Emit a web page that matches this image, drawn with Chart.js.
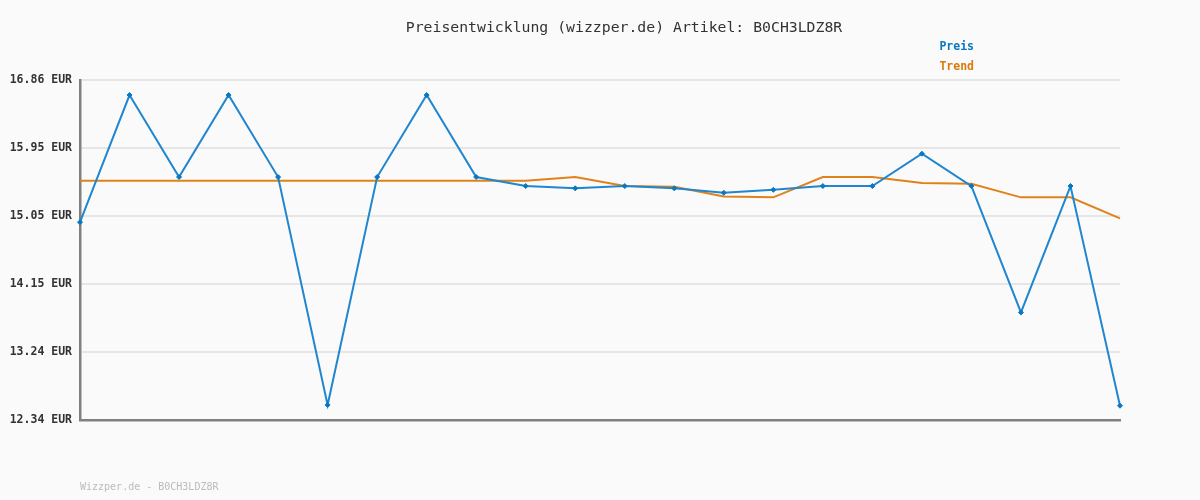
<!DOCTYPE html>
<html>
<head>
<meta charset="utf-8">
<script src="https://cdn.jsdelivr.net/npm/chart.js@4/dist/chart.umd.min.js"></script>
<style>
html,body{margin:0;padding:0;background:#fafafa;}
#wrap{width:1200px;height:500px;position:relative;}
</style>
</head>
<body>
<div id="wrap"><canvas id="c" width="1200" height="500"></canvas></div>
<script>
const categories = ["1","2","3","4","5","6","7","8","9","10","11","12","13","14","15","16","17","18","19","20","21","22"];
const preis = [14.97,16.66,15.57,16.66,15.57,12.54,15.57,16.66,15.57,15.45,15.42,15.45,15.42,15.36,15.40,15.45,15.45,15.88,15.45,13.77,15.45,12.53];
const trend = [15.52,15.52,15.52,15.52,15.52,15.52,15.52,15.52,15.52,15.52,15.57,15.45,15.44,15.31,15.30,15.57,15.57,15.49,15.48,15.30,15.30,15.02];
const tickLabels = ["12.34 EUR","13.24 EUR","14.15 EUR","15.05 EUR","15.95 EUR","16.86 EUR"];
const yMin = 12.34, yMax = 16.86;
const titleText = "Preisentwicklung (wizzper.de) Artikel: B0CH3LDZ8R";
const footerText = "Wizzper.de - B0CH3LDZ8R";
const seriesNames = ["Preis","Trend"];

const BLUE = "#1f86cf", ORANGE = "#e0821a";

const decor = {
  id: 'decor',
  beforeDraw(chart){
    const ctx = chart.ctx;
    ctx.save();
    ctx.fillStyle = '#fafafa';
    ctx.fillRect(0,0,chart.width,chart.height);
    ctx.restore();
  },
  afterDraw(chart){
    const ctx = chart.ctx;
    ctx.save();
    ctx.textBaseline = 'middle';
    ctx.fillStyle = '#333';
    ctx.font = '14.8px "DejaVu Sans Mono", monospace';
    ctx.textAlign = 'center';
    ctx.fillText(titleText, 624, 28);
    ctx.textAlign = 'right';
    ctx.font = 'bold 11.5px "DejaVu Sans Mono", monospace';
    ctx.fillStyle = '#0a78c0';
    ctx.fillText(seriesNames[0], 974, 47);
    ctx.fillStyle = '#d97a0a';
    ctx.fillText(seriesNames[1], 974, 67);
    ctx.textAlign = 'left';
    ctx.font = '10px "DejaVu Sans Mono", monospace';
    ctx.fillStyle = '#bbbbbb';
    ctx.fillText(footerText, 80, 487);
    ctx.restore();
  }
};

new Chart(document.getElementById('c'), {
  type: 'line',
  data: {
    labels: categories,
    datasets: [
      {label: seriesNames[0], data: preis, borderColor: BLUE, backgroundColor: BLUE, borderWidth: 2,
       pointStyle: 'rectRot', pointRadius: 2.5, pointBorderWidth: 1, pointBackgroundColor: '#0a78c0', pointBorderColor: '#0a78c0', tension: 0, clip: false},
      {label: seriesNames[1], data: trend, borderColor: ORANGE, backgroundColor: ORANGE, borderWidth: 2,
       pointRadius: 0, tension: 0, clip: false}
    ]
  },
  options: {
    responsive: false,
    animation: false,
    devicePixelRatio: 1,
    layout: {padding: {left: 0, right: 80, top: 80, bottom: 80}},
    plugins: {legend: {display: false}, title: {display: false}, tooltip: {enabled: false}},
    scales: {
      x: {
        offset: false,
        grid: {display: false, drawTicks: false},
        border: {display: true, color: '#808080', width: 2.5},
        ticks: {display: false},
        afterFit(s){ s.height = 0; }
      },
      y: {
        min: yMin, max: yMax,
        afterBuildTicks(s){
          s.ticks = tickLabels.map((t,i)=>({value: yMin + i*(yMax-yMin)/(tickLabels.length-1)}));
        },
        afterFit(s){ s.width = 80; },
        grid: {color: '#e6e6e6', lineWidth: 2, drawTicks: false},
        border: {display: true, color: '#808080', width: 2.5},
        ticks: {
          padding: 8,
          color: '#333',
          font: {family: '"DejaVu Sans Mono", monospace', size: 11.5, weight: 'bold'},
          callback: (v, i) => tickLabels[i]
        }
      }
    }
  },
  plugins: [decor]
});
</script>
</body>
</html>
